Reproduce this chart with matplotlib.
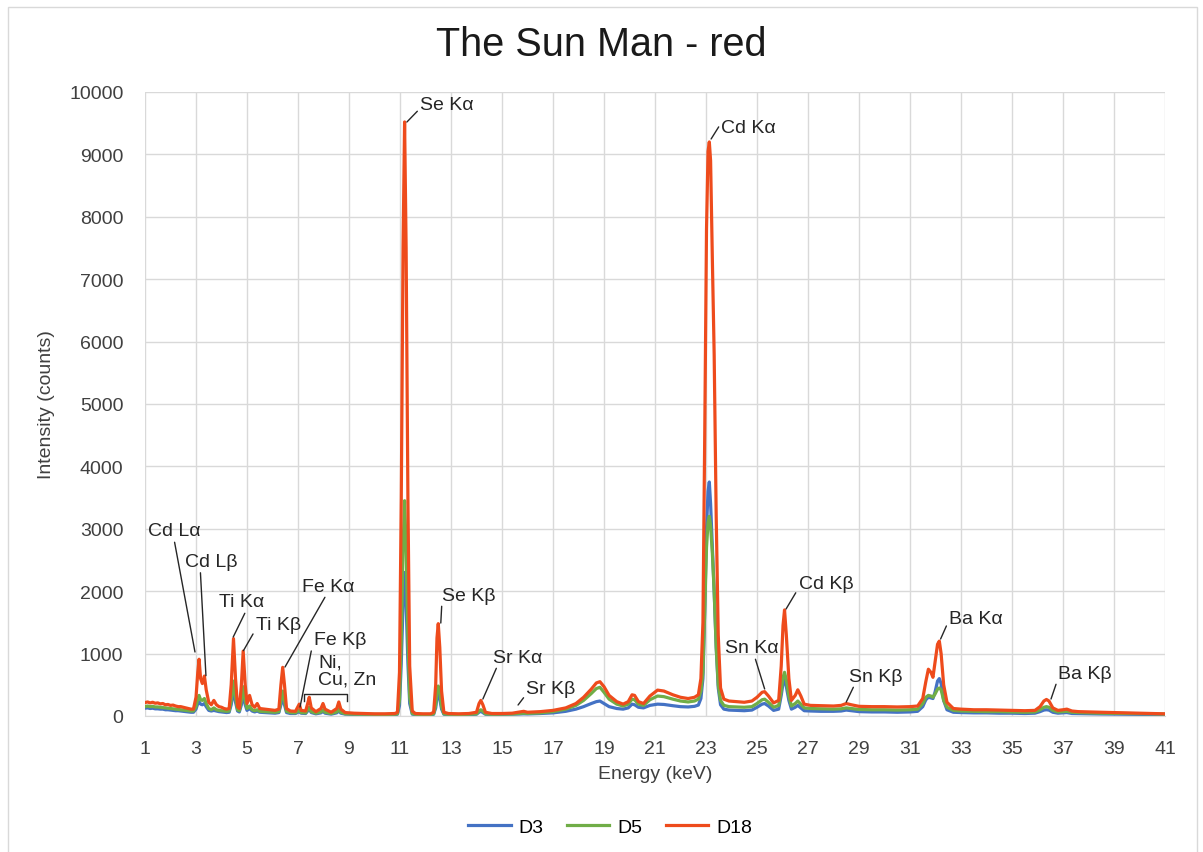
import matplotlib
matplotlib.use('Agg')
import matplotlib.pyplot as plt
from matplotlib.patches import Rectangle

plt.rcParams['font.family'] = ['Liberation Sans', 'DejaVu Sans']

# Energy grid (keV) and intensities (counts)
energy = [
    1.0, 1.1, 1.2, 1.3, 1.4, 1.5, 1.6, 1.7, 1.8, 1.9,
    2.0, 2.1, 2.2, 2.3, 2.4, 2.5, 2.6, 2.7, 2.8, 2.9,
    3.0, 3.07, 3.12, 3.18, 3.25, 3.33, 3.4, 3.5, 3.6, 3.7,
    3.8, 3.9, 4.0, 4.1, 4.2, 4.3, 4.38, 4.47, 4.55, 4.63,
    4.7, 4.78, 4.85, 4.93, 5.0, 5.1, 5.2, 5.3, 5.4, 5.5,
    5.7, 5.9, 6.1, 6.25, 6.33, 6.4, 6.47, 6.55, 6.7, 6.9,
    7.0, 7.05, 7.12, 7.3, 7.38, 7.44, 7.52, 7.7, 7.9, 7.98,
    8.06, 8.3, 8.52, 8.6, 8.68, 8.85, 9.2, 9.6, 10.0, 10.4,
    10.8, 10.9, 10.98, 11.05, 11.12, 11.18, 11.24, 11.31, 11.38, 11.48,
    11.6, 11.9, 12.2, 12.32, 12.4, 12.45, 12.5, 12.56, 12.63, 12.72,
    12.9, 13.3, 13.7, 14.0, 14.1, 14.17, 14.25, 14.35, 14.6, 15.0,
    15.4, 15.7, 15.85, 16.0, 16.5, 17.0, 17.5, 17.9, 18.2, 18.5,
    18.7, 18.84, 19.0, 19.2, 19.5, 19.75, 19.95, 20.1, 20.2, 20.35,
    20.55, 20.8, 21.1, 21.35, 21.7, 22.0, 22.3, 22.55, 22.7, 22.8,
    22.88, 22.95, 23.02, 23.08, 23.13, 23.18, 23.25, 23.32, 23.4, 23.48,
    23.57, 23.7, 23.9, 24.2, 24.5, 24.8, 25.0, 25.2, 25.3, 25.45,
    25.65, 25.85, 25.95, 26.02, 26.08, 26.15, 26.25, 26.35, 26.5, 26.6,
    26.72, 26.85, 27.1, 27.5, 28.0, 28.3, 28.5, 28.7, 29.0, 29.5,
    30.0, 30.5, 31.0, 31.3, 31.5, 31.62, 31.72, 31.82, 31.9, 31.98,
    32.08, 32.15, 32.22, 32.32, 32.45, 32.7, 33.0, 33.5, 34.0, 34.5,
    35.0, 35.5, 35.9, 36.1, 36.25, 36.35, 36.45, 36.6, 36.8, 37.0,
    37.15, 37.35, 37.6, 38.0, 38.5, 39.0, 39.5, 40.0, 40.5, 41.0,
]

d18 = [
    215, 225, 210, 220, 205, 210, 195, 200, 180, 185,
    170, 175, 160, 150, 150, 140, 130, 120, 110, 110,
    300, 700, 910, 600, 520, 640, 420, 220, 180, 250,
    180, 150, 140, 120, 110, 120, 500, 1240, 600, 150,
    120, 500, 1040, 500, 200, 330, 180, 140, 200, 120,
    110, 100, 90, 110, 500, 780, 500, 120, 80, 75,
    150, 190, 90, 80, 200, 300, 130, 70, 120, 200,
    110, 60, 120, 225, 110, 55, 45, 40, 35, 35,
    40, 60, 700, 3500, 7500, 9520, 7500, 3500, 800, 80,
    40, 35, 35, 60, 500, 1250, 1480, 1100, 400, 60,
    40, 35, 40, 60, 200, 250, 180, 60, 40, 40,
    45, 65, 75, 60, 70, 90, 130, 200, 300, 430,
    530, 550, 470, 330, 230, 190, 230, 340, 330, 230,
    200, 320, 415, 400, 340, 300, 280, 300, 340, 600,
    1500, 4500, 7800, 9050, 9200, 8900, 7300, 5800, 3200, 1300,
    450, 270, 240, 230, 220, 240, 300, 380, 390, 320,
    210, 250, 800, 1450, 1700, 1300, 600, 250, 330, 420,
    320, 190, 170, 165, 160, 170, 200, 180, 155, 150,
    150, 145, 150, 160, 280, 550, 750, 700, 620, 850,
    1150, 1200, 1000, 500, 220, 120, 110, 100, 100, 95,
    90, 85, 90, 150, 240, 265, 240, 130, 90, 100,
    110, 80, 70, 65, 60, 55, 50, 45, 40, 35,
]

d5 = [
    150, 160, 150, 155, 145, 145, 140, 135, 130, 125,
    120, 115, 110, 105, 100, 95, 90, 85, 80, 80,
    150, 280, 330, 260, 250, 280, 200, 120, 100, 130,
    100, 90, 85, 80, 75, 80, 250, 560, 300, 100,
    85, 250, 470, 250, 120, 160, 100, 85, 100, 75,
    70, 65, 60, 70, 250, 400, 250, 75, 55, 50,
    80, 95, 55, 50, 100, 140, 70, 45, 65, 100,
    60, 40, 65, 110, 60, 35, 30, 28, 25, 25,
    28, 35, 260, 1250, 2700, 3450, 2700, 1250, 300, 40,
    28, 25, 25, 35, 180, 420, 480, 380, 150, 35,
    28, 25, 28, 35, 80, 100, 75, 35, 28, 30,
    32, 40, 45, 42, 50, 70, 110, 170, 250, 360,
    440, 460, 380, 270, 190, 160, 190, 270, 260, 190,
    170, 260, 320, 310, 270, 240, 225, 240, 270, 400,
    700, 1700, 2700, 3100, 3200, 3050, 2600, 2000, 1100, 500,
    250, 170, 150, 145, 140, 150, 200, 260, 270, 220,
    140, 170, 400, 620, 700, 580, 320, 160, 200, 240,
    190, 130, 120, 115, 110, 115, 130, 120, 105, 100,
    100, 95, 100, 110, 200, 300, 330, 320, 300, 350,
    430, 450, 420, 250, 140, 90, 80, 75, 70, 70,
    65, 60, 65, 100, 140, 150, 140, 90, 65, 70,
    75, 60, 55, 50, 45, 42, 40, 38, 35, 30,
]

d3 = [
    125, 130, 120, 125, 115, 115, 110, 110, 100, 100,
    95, 90, 85, 85, 80, 75, 70, 65, 60, 60,
    110, 200, 230, 190, 180, 200, 150, 90, 80, 90,
    80, 70, 65, 60, 55, 60, 180, 420, 220, 80,
    65, 180, 350, 180, 90, 120, 80, 65, 80, 60,
    55, 50, 45, 55, 180, 300, 180, 55, 40, 40,
    60, 70, 45, 40, 80, 110, 55, 35, 50, 75,
    45, 30, 50, 80, 45, 30, 25, 22, 20, 20,
    22, 28, 170, 850, 1800, 2300, 1800, 850, 200, 30,
    22, 20, 20, 28, 130, 300, 350, 270, 110, 28,
    22, 20, 22, 28, 60, 75, 55, 28, 22, 25,
    27, 32, 35, 33, 40, 50, 75, 110, 150, 200,
    230, 240, 200, 150, 120, 110, 130, 190, 180, 140,
    130, 170, 190, 185, 165, 150, 145, 155, 175, 280,
    600, 1700, 3000, 3600, 3750, 3400, 2700, 2000, 1100, 450,
    180, 110, 95, 90, 85, 95, 140, 190, 200, 160,
    90, 110, 330, 520, 600, 470, 250, 110, 140, 170,
    130, 85, 80, 75, 75, 80, 95, 85, 70, 65,
    65, 60, 65, 75, 150, 260, 300, 290, 280, 380,
    560, 600, 520, 250, 100, 60, 55, 50, 50, 45,
    45, 40, 45, 70, 95, 100, 95, 60, 45, 50,
    55, 40, 38, 35, 32, 30, 28, 26, 25, 22,
]

series_names = ['D3', 'D5', 'D18']
series_colors = ['#4472C4', '#70AD47', '#EE4B1C']

# Peak labels: text, text position (keV, counts), line end (keV, counts), line start on text box
peak_labels = [
    ('Cd Lα', 2.14, 2965, 2.96, 1026, (0.5, 0.0)),
    ('Cd Lβ', 3.58, 2476, 3.39, 646, (0.3, 0.0)),
    ('Ti Kα', 4.79, 1827, 4.46, 1266, (0.6, 0.0)),
    ('Ti Kβ', 6.23, 1474, 4.86, 1047, (0.0, 0.2)),
    ('Fe Kα', 8.18, 2083, 6.49, 785, (0.47, 0.0)),
    ('Fe Kβ', 8.65, 1223, 7.08, 144, (0.0, 0.6)),
    ('Se Kα', 12.84, 9792, 11.27, 9519, (0.0, 0.3)),
    ('Se Kβ', 13.70, 1939, 12.60, 1490, (0.0, 0.3)),
    ('Sr Kα', 15.60, 945, 14.25, 272, (0.1, 0.0)),
    ('Sr Kβ', 16.92, 433, 15.63, 176, (0.0, 0.2)),
    ('Cd Kα', 24.68, 9430, 23.20, 9247, (0.0, 0.8)),
    ('Sn Kα', 24.80, 1090, 25.30, 433, (0.55, 0.0)),
    ('Cd Kβ', 27.70, 2131, 26.14, 1715, (0.0, 0.2)),
    ('Sn Kβ', 29.67, 641, 28.50, 224, (0.1, 0.0)),
    ('Ba Kα', 33.59, 1570, 32.20, 1234, (0.0, 0.4)),
    ('Ba Kβ', 37.86, 689, 36.53, 272, (0.0, 0.2)),
]
# Ni, Cu, Zn group label and bracket
group_text = 'Ni,\nCu, Zn'
group_pos = (7.78, 726)
bracket_x = [7.24, 7.24, 8.92, 8.92]
bracket_y = [240, 352, 352, 240]

fig = plt.figure(figsize=(12.03, 8.53), dpi=100)
ax = fig.add_axes([145 / 1203, 1 - 717 / 853, 1020 / 1203, 624 / 853])

for name, vals, col in zip(series_names, [d3, d5, d18], series_colors):
    ax.plot(energy, vals, color=col, linewidth=2.3, label=name)

ax.set_xlim(1, 41)
ax.set_ylim(0, 10000)
ax.set_xticks(range(1, 42, 2))
ax.set_yticks(range(0, 10001, 1000))
ax.grid(True, color='#D9D9D9', linewidth=1)
ax.set_axisbelow(True)
for s in ['top', 'right', 'left']:
    ax.spines[s].set_visible(False)
ax.spines['bottom'].set_color('#D9D9D9')
ax.tick_params(length=0, labelsize=14, colors='#404040')
ax.tick_params(axis='y', pad=15.5)
ax.tick_params(axis='x', pad=17)
ax.set_xlabel('Energy (keV)', fontsize=14, color='#404040', labelpad=6)
ax.set_ylabel('Intensity (counts)', fontsize=14, color='#404040', labelpad=10)

for txt, tx, ty, px, py, rp in peak_labels:
    ax.annotate(txt, xy=(px, py), xytext=(tx, ty), ha='center', va='center',
                fontsize=14, color='#262626',
                arrowprops=dict(arrowstyle='-', color='#262626', lw=1,
                                shrinkA=0, shrinkB=0, relpos=rp))
ax.text(group_pos[0], group_pos[1], group_text, ha='left', va='center',
        fontsize=14, color='#262626', linespacing=1.0)
ax.plot(bracket_x, bracket_y, color='#262626', linewidth=1)

fig.suptitle('The Sun Man - red', fontsize=28.5, color='#1a1a1a', y=0.947, va='center')

fig.legend(loc='center', bbox_to_anchor=(0.507, 1 - 828 / 853), ncol=3, frameon=False,
           fontsize=14, handlelength=2.2, columnspacing=1.2, handletextpad=0.4)

fig.patches.append(Rectangle((8 / 1203, -0.01), 1189 / 1203, 1 - 8 / 853 + 0.01,
                             transform=fig.transFigure, fill=False,
                             edgecolor='#D9D9D9', linewidth=1))

fig.savefig('out.png', dpi=100)
